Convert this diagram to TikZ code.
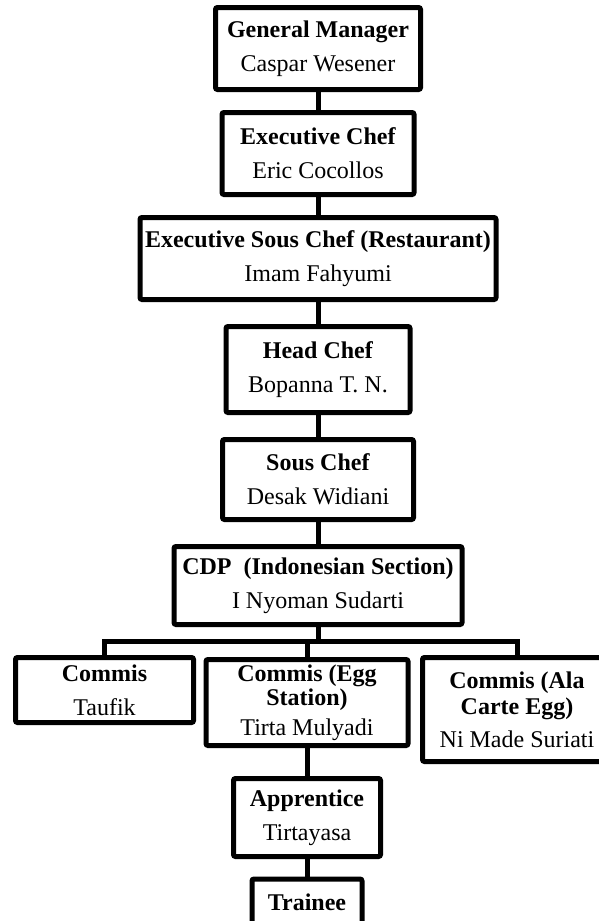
\documentclass[tikz,border=0pt]{standalone}
\usepackage{fontspec}
\setmainfont{Liberation Serif}
\usepackage{tikz}

\tikzset{
  staff/.style={draw, line width=5pt, rounded corners=2pt, align=center,
    inner sep=1pt, font=\fontsize{24}{26}\selectfont},
  link/.style={line width=5pt}
}

\begin{document}
\begin{tikzpicture}[x=1pt,y=-1pt]
			\useasboundingbox (0,0) rectangle (599,921);
			\clip (0,0) rectangle (599,921);
			% top of the kitchen
			\node[staff, minimum width=205pt, minimum height=82pt](gm) at (318,48.5){\textbf{General Manager}\\[8pt]Caspar Wesener};
			\node[staff, minimum width=192pt, minimum height=82pt](ec) at (318,153.5){\textbf{Executive Chef}\\[8pt]Eric Cocollos};
			\node[staff, minimum width=356pt, minimum height=82pt](esc) at (318,258.5){\textbf{Executive Sous Chef (Restaurant)}\\[8pt]Imam Fahyumi};
			\node[staff, minimum width=184pt, minimum height=86pt](hc) at (318,369.5){\textbf{Head Chef}\\[8pt]Bopanna T. N.};
			\node[staff, minimum width=191pt, minimum height=80pt](sc) at (318,479.5){\textbf{Sous Chef}\\[8pt]Desak Widiani};
			\node[staff, minimum width=288pt, minimum height=78pt](cdp) at (318,585.5){\textbf{CDP~ (Indonesian Section)}\\[8pt]I Nyoman Sudarti};
			% commis row
			\coordinate (bus) at (0,641);
			\node[staff, minimum width=178pt, minimum height=65pt](cm) at (104.5,690){\textbf{Commis}\\[8pt]Taufik};
			\node[staff, minimum width=202pt, minimum height=86pt, font=\fontsize{24}{24}\selectfont](ces) at (307,702.5){\textbf{Commis (Egg}\\\textbf{Station)}\\[6pt]Tirta Mulyadi};
			\node[staff, minimum width=189pt, minimum height=104pt](cal) at (517,709.5){\textbf{Commis (Ala}\\\textbf{Carte Egg)}\\[7pt]Ni Made Suriati};
			\node[staff, minimum width=147pt, minimum height=78pt](ap) at (307,817.5){\textbf{Apprentice}\\[8pt]Tirtayasa};
			\node[staff, minimum width=110pt, inner ysep=14pt, text height=17pt, text depth=60pt, anchor=north](tr) at (307,876.5){\textbf{Trainee}};
			% links
			\draw[link](gm.south)--(ec.north);
			\draw[link](ec.south)--(esc.north);
			\draw[link](esc.south)--(hc.north);
			\draw[link](hc.south)--(sc.north);
			\draw[link](sc.south)--(cdp.north);
			\draw[link](cdp.south)--(cdp.south|-bus);
			\draw[link](cm.north)--(cm.north|-bus)--(cal.north|-bus)--(cal.north);
			\draw[link](ces.north)--(ces.north|-bus);
			\draw[link](ces.south)--(ap.north);
			\draw[link](ap.south)--(tr.north);
			\end{tikzpicture}
\end{document}
